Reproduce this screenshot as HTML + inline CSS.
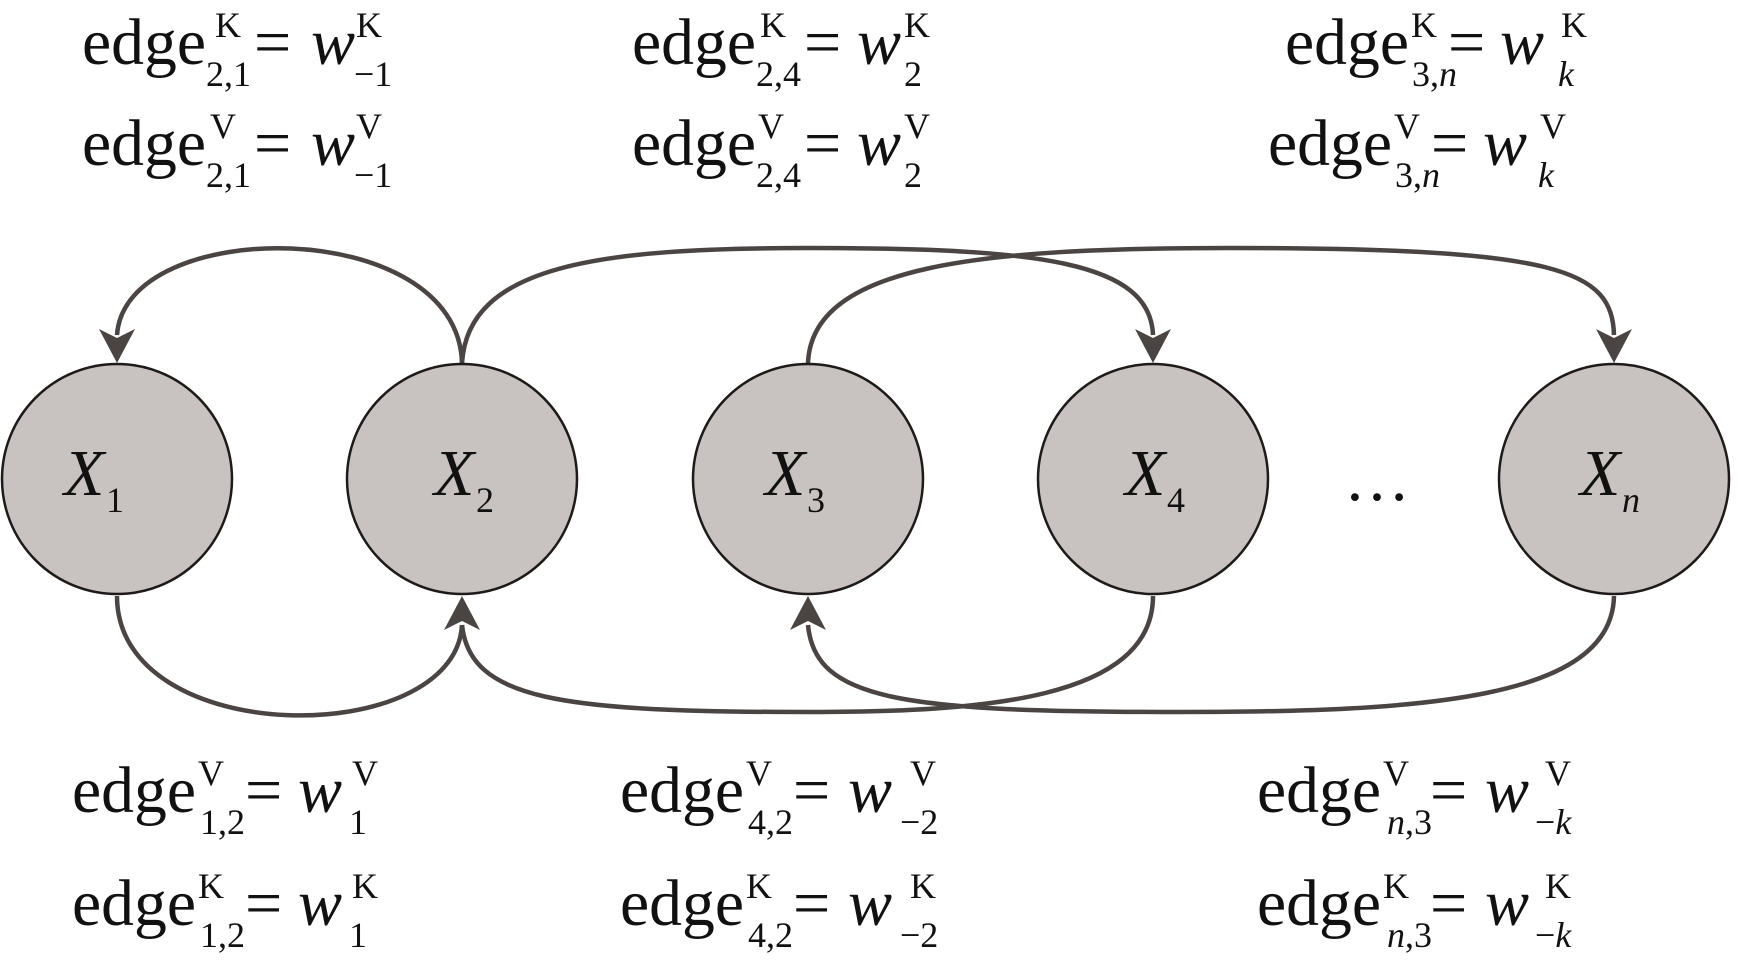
<!DOCTYPE html>
<html><head><meta charset="utf-8"><style>
html,body{margin:0;padding:0;background:#fff;}
svg{display:block}
text{font-family:"Liberation Serif",serif;fill:#111}
.e{font-size:66px}
.s{font-size:36px}
.i{font-style:italic}
</style></head><body>
<svg width="1746" height="963" viewBox="0 0 1746 963" xmlns="http://www.w3.org/2000/svg">
<g fill="none" stroke="#4a4443" stroke-width="4.5">
 <path d="M462,363 C458,215 125,215 117,335"/>
 <path d="M462,363 C468,265 600,248 808,248 C1040,248 1150,262 1153,335"/>
 <path d="M808,363 C812,265 980,248 1230,248 C1560,248 1612,270 1614,335"/>
 <path d="M117,596 C117,750 455,750 462,625"/>
 <path d="M1153,596 C1153,700 980,712 810,712 C560,712 470,700 462,625"/>
 <path d="M1614,596 C1612,700 1420,712 1180,712 C900,712 815,700 808,625"/>
</g>
<g fill="#4a4443">
 <path d="M117,363 L99,329 L117,338 L135,329 Z"/>
 <path d="M1153,363 L1135,329 L1153,338 L1171,329 Z"/>
 <path d="M1614,363 L1596,329 L1614,338 L1632,329 Z"/>
 <path d="M462,596 L444,630 L462,621 L480,630 Z"/>
 <path d="M808,596 L790,630 L808,621 L826,630 Z"/>
</g>
<g fill="#c8c3c1" stroke="#1e1a19" stroke-width="2.5">
 <circle cx="117" cy="479" r="115"/>
 <circle cx="462" cy="479" r="115"/>
 <circle cx="808" cy="479" r="115"/>
 <circle cx="1153" cy="479" r="115"/>
 <circle cx="1614" cy="479" r="115"/>
</g>
<g>
 <text x="64" y="495" class="e i">X</text><text x="106" y="512" class="s">1</text>
 <text x="434" y="495" class="e i">X</text><text x="476" y="512" class="s">2</text>
 <text x="765" y="495" class="e i">X</text><text x="807" y="512" class="s">3</text>
 <text x="1125" y="495" class="e i">X</text><text x="1167" y="512" class="s">4</text>
 <text x="1580" y="495" class="e i">X</text><text x="1622" y="512" class="s i">n</text>
 <text x="1344" y="500" class="e">…</text>
</g>

<g transform="translate(82,64)">
 <text x="0" y="0" class="e" textLength="124" lengthAdjust="spacingAndGlyphs">edge</text>
 <text x="133" y="-27" class="s">K</text><text x="124" y="22" class="s">2,1</text>
 <text x="172" y="0" class="e">=</text><text x="229" y="0" class="e i">w</text>
 <text x="274" y="-27" class="s">K</text><text x="272" y="22" class="s">−1</text>
</g>
<g transform="translate(82,165)">
 <text x="0" y="0" class="e" textLength="124" lengthAdjust="spacingAndGlyphs">edge</text>
 <text x="128" y="-27" class="s">V</text><text x="124" y="22" class="s">2,1</text>
 <text x="172" y="0" class="e">=</text><text x="229" y="0" class="e i">w</text>
 <text x="274" y="-27" class="s">V</text><text x="272" y="22" class="s">−1</text>
</g>
<g transform="translate(632,64)">
 <text x="0" y="0" class="e" textLength="124" lengthAdjust="spacingAndGlyphs">edge</text>
 <text x="128" y="-27" class="s">K</text><text x="124" y="22" class="s">2,4</text>
 <text x="172" y="0" class="e">=</text><text x="225" y="0" class="e i">w</text>
 <text x="272" y="-27" class="s">K</text><text x="272" y="22" class="s">2</text>
</g>
<g transform="translate(632,165)">
 <text x="0" y="0" class="e" textLength="124" lengthAdjust="spacingAndGlyphs">edge</text>
 <text x="126" y="-27" class="s">V</text><text x="124" y="22" class="s">2,4</text>
 <text x="172" y="0" class="e">=</text><text x="225" y="0" class="e i">w</text>
 <text x="272" y="-27" class="s">V</text><text x="272" y="22" class="s">2</text>
</g>
<g transform="translate(1285,64)">
 <text x="0" y="0" class="e" textLength="124" lengthAdjust="spacingAndGlyphs">edge</text>
 <text x="126" y="-27" class="s">K</text><text x="127" y="22" class="s">3,<tspan class="i">n</tspan></text>
 <text x="163" y="0" class="e">=</text><text x="215" y="0" class="e i">w</text>
 <text x="276" y="-27" class="s">K</text><text x="273" y="22" class="s i">k</text>
</g>
<g transform="translate(1268,165)">
 <text x="0" y="0" class="e" textLength="124" lengthAdjust="spacingAndGlyphs">edge</text>
 <text x="126" y="-27" class="s">V</text><text x="127" y="22" class="s">3,<tspan class="i">n</tspan></text>
 <text x="163" y="0" class="e">=</text><text x="215" y="0" class="e i">w</text>
 <text x="272" y="-27" class="s">V</text><text x="270" y="22" class="s i">k</text>
</g>

<g transform="translate(72,812)">
 <text x="0" y="0" class="e" textLength="124" lengthAdjust="spacingAndGlyphs">edge</text>
 <text x="126" y="-27" class="s">V</text><text x="128" y="22" class="s">1,2</text>
 <text x="173" y="0" class="e">=</text><text x="226" y="0" class="e i">w</text>
 <text x="280" y="-27" class="s">V</text><text x="277" y="22" class="s">1</text>
</g>
<g transform="translate(72,925)">
 <text x="0" y="0" class="e" textLength="124" lengthAdjust="spacingAndGlyphs">edge</text>
 <text x="126" y="-27" class="s">K</text><text x="128" y="22" class="s">1,2</text>
 <text x="173" y="0" class="e">=</text><text x="226" y="0" class="e i">w</text>
 <text x="280" y="-27" class="s">K</text><text x="277" y="22" class="s">1</text>
</g>
<g transform="translate(620,812)">
 <text x="0" y="0" class="e" textLength="124" lengthAdjust="spacingAndGlyphs">edge</text>
 <text x="126" y="-27" class="s">V</text><text x="128" y="22" class="s">4,2</text>
 <text x="173" y="0" class="e">=</text><text x="228" y="0" class="e i">w</text>
 <text x="290" y="-27" class="s">V</text><text x="280" y="22" class="s">−2</text>
</g>
<g transform="translate(620,925)">
 <text x="0" y="0" class="e" textLength="124" lengthAdjust="spacingAndGlyphs">edge</text>
 <text x="126" y="-27" class="s">K</text><text x="128" y="22" class="s">4,2</text>
 <text x="173" y="0" class="e">=</text><text x="228" y="0" class="e i">w</text>
 <text x="290" y="-27" class="s">K</text><text x="280" y="22" class="s">−2</text>
</g>
<g transform="translate(1257,812)">
 <text x="0" y="0" class="e" textLength="124" lengthAdjust="spacingAndGlyphs">edge</text>
 <text x="126" y="-27" class="s">V</text><text x="130" y="22" class="s"><tspan class="i">n</tspan>,3</text>
 <text x="173" y="0" class="e">=</text><text x="228" y="0" class="e i">w</text>
 <text x="288" y="-27" class="s">V</text><text x="278" y="22" class="s">−<tspan class="i">k</tspan></text>
</g>
<g transform="translate(1257,925)">
 <text x="0" y="0" class="e" textLength="124" lengthAdjust="spacingAndGlyphs">edge</text>
 <text x="126" y="-27" class="s">K</text><text x="130" y="22" class="s"><tspan class="i">n</tspan>,3</text>
 <text x="173" y="0" class="e">=</text><text x="228" y="0" class="e i">w</text>
 <text x="288" y="-27" class="s">K</text><text x="278" y="22" class="s">−<tspan class="i">k</tspan></text>
</g>
</svg>
</body></html>
